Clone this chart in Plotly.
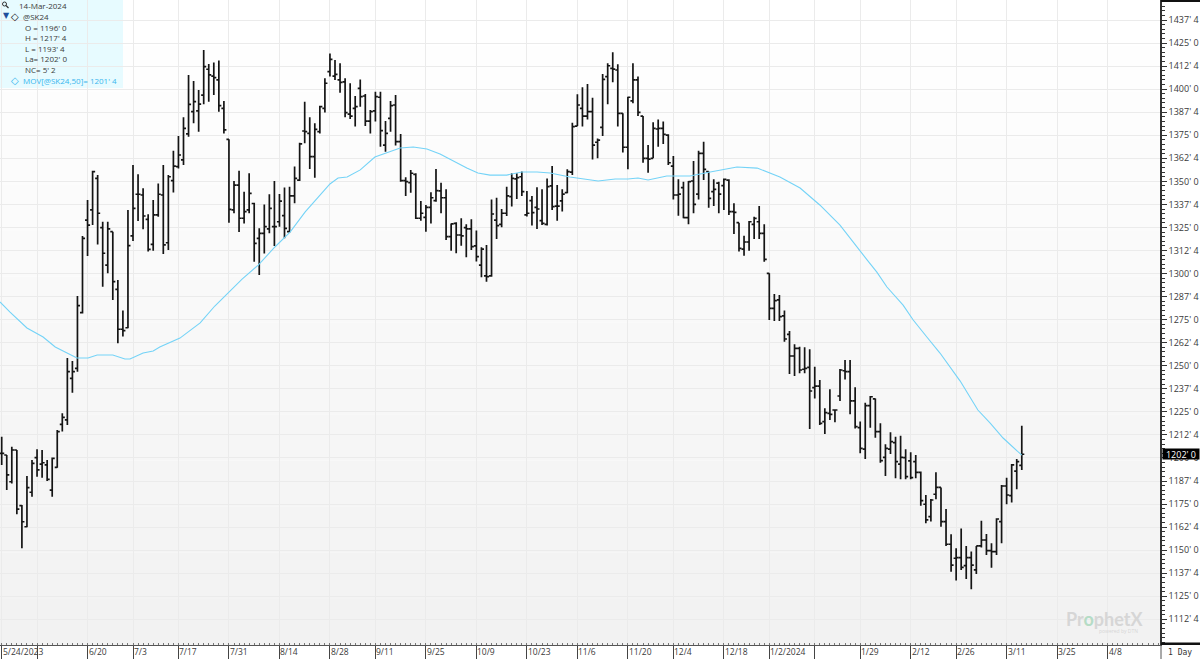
import plotly.graph_objects as go

# Daily prices for the May 2024 wheat contract, in cents per bushel
opens = [
    1202.5, 1201.6, 1187.1, 1204.3, 1174.1, 1162.7, 1181.4, 1200.2, 1196.7, 1196.2,
    1182.6, 1194.9, 1218.2, 1220.6, 1243.2, 1248.6, 1278.8, 1329.0, 1334.5, 1351.6,
    1324.9, 1304.6, 1322.7, 1291.4, 1269.8, 1270.6, 1320.4, 1343.0, 1342.6, 1329.4,
    1315.8, 1331.8, 1342.6, 1316.7, 1350.4, 1358.0, 1361.6, 1375.7, 1387.8, 1388.2,
    1396.8, 1410.8, 1407.1, 1405.0, 1389.6, 1372.8, 1334.5, 1348.0, 1330.0, 1334.5,
    1338.0, 1319.1, 1321.8, 1324.2, 1325.4, 1328.1, 1331.4, 1322.7, 1342.1, 1350.7,
    1377.3, 1376.0, 1363.4, 1377.0, 1389.6, 1409.5, 1407.1, 1405.0, 1404.0, 1386.5,
    1389.6, 1400.4, 1396.3, 1382.7, 1388.2, 1395.6, 1369.7, 1384.2, 1391.4, 1371.5,
    1350.4, 1349.3, 1353.8, 1330.0, 1330.5, 1335.9, 1339.5, 1344.8, 1341.1, 1320.0,
    1327.2, 1320.9, 1324.9, 1324.2, 1315.0, 1304.6, 1298.7, 1298.7, 1329.0, 1326.7,
    1332.7, 1341.7, 1351.3, 1352.5, 1331.8, 1339.5, 1335.9, 1328.7, 1326.7, 1347.5,
    1336.6, 1339.4, 1343.9, 1355.0, 1380.0, 1389.6, 1385.4, 1387.8, 1371.2, 1379.3,
    1406.8, 1411.3, 1410.4, 1386.9, 1368.5, 1393.6, 1405.0, 1385.4, 1362.5, 1362.5,
    1378.4, 1378.7, 1375.1, 1358.3, 1342.6, 1346.6, 1330.3, 1350.2, 1343.1, 1365.2,
    1355.3, 1344.4, 1349.0, 1347.7, 1350.7, 1333.6, 1327.6, 1313.3, 1317.1, 1326.7,
    1328.1, 1321.8, 1300.1, 1281.1, 1285.7, 1277.0, 1267.0, 1255.3, 1259.4, 1248.1,
    1249.1, 1238.1, 1239.0, 1219.7, 1224.2, 1226.0, 1233.6, 1247.3, 1246.8, 1230.9,
    1216.4, 1204.8, 1228.4, 1232.0, 1214.3, 1200.3, 1204.8, 1208.3, 1196.7, 1200.2,
    1198.4, 1198.0, 1192.2, 1174.9, 1168.2, 1180.3, 1184.0, 1165.5, 1153.2, 1145.6,
    1145.9, 1141.6, 1145.9, 1139.3, 1152.3, 1155.5, 1149.7, 1149.2, 1165.5, 1184.8,
    1179.6, 1192.9, 1196.0,
]
highs = [
    1211.5, 1201.6, 1206.1, 1204.3, 1174.5, 1190.2, 1198.9, 1204.7, 1204.3, 1198.9,
    1200.2, 1215.2, 1224.2, 1254.2, 1252.6, 1287.8, 1320.4, 1339.9, 1355.8, 1353.4,
    1328.1, 1328.1, 1322.7, 1296.5, 1279.9, 1334.5, 1358.9, 1353.8, 1346.2, 1332.1,
    1339.9, 1348.9, 1358.9, 1353.4, 1366.6, 1374.6, 1384.7, 1407.7, 1404.4, 1399.5,
    1421.2, 1413.6, 1414.4, 1415.5, 1393.6, 1372.8, 1350.2, 1355.8, 1344.4, 1354.4,
    1338.4, 1324.5, 1337.5, 1343.0, 1350.2, 1343.1, 1346.6, 1347.1, 1358.0, 1371.0,
    1393.2, 1384.7, 1381.5, 1391.0, 1405.9, 1419.4, 1415.8, 1414.0, 1405.9, 1403.2,
    1396.3, 1405.3, 1397.4, 1388.7, 1398.6, 1398.6, 1382.7, 1393.6, 1396.8, 1375.7,
    1352.2, 1356.2, 1354.4, 1339.4, 1337.2, 1344.1, 1356.7, 1349.3, 1345.7, 1327.2,
    1327.8, 1330.0, 1326.7, 1329.4, 1323.3, 1314.2, 1315.5, 1340.2, 1341.1, 1335.0,
    1347.1, 1354.4, 1354.4, 1355.3, 1344.8, 1342.1, 1346.8, 1345.7, 1351.6, 1358.3,
    1348.0, 1345.7, 1356.5, 1381.8, 1397.2, 1401.0, 1402.8, 1395.4, 1373.3, 1408.2,
    1414.0, 1420.0, 1413.5, 1386.9, 1395.9, 1414.0, 1406.8, 1385.4, 1369.7, 1382.0,
    1383.6, 1382.4, 1375.5, 1363.8, 1351.1, 1349.8, 1350.2, 1361.0, 1366.6, 1371.5,
    1355.3, 1351.1, 1349.8, 1351.6, 1351.1, 1338.1, 1327.6, 1320.5, 1328.5, 1330.8,
    1336.6, 1326.7, 1300.1, 1288.9, 1288.4, 1279.9, 1268.8, 1261.6, 1260.3, 1260.0,
    1258.9, 1249.5, 1242.3, 1226.9, 1237.2, 1226.4, 1248.2, 1253.1, 1253.1, 1238.3,
    1219.7, 1230.0, 1233.6, 1232.3, 1218.8, 1207.4, 1213.9, 1211.5, 1212.1, 1204.7,
    1203.1, 1201.6, 1192.6, 1179.9, 1177.8, 1192.2, 1184.0, 1172.3, 1158.6, 1151.0,
    1161.8, 1152.3, 1149.2, 1152.3, 1166.0, 1158.8, 1153.7, 1167.3, 1185.3, 1189.3,
    1196.7, 1199.4, 1217.5,
]
lows = [
    1196.2, 1182.6, 1186.2, 1169.4, 1151.0, 1162.4, 1179.0, 1189.8, 1189.3, 1187.5,
    1179.0, 1194.7, 1214.3, 1217.9, 1235.4, 1246.8, 1278.4, 1309.5, 1326.3, 1315.8,
    1292.9, 1300.1, 1285.7, 1262.2, 1265.8, 1270.3, 1317.7, 1328.5, 1324.0, 1311.9,
    1312.4, 1330.8, 1310.6, 1312.8, 1343.9, 1357.0, 1358.9, 1374.2, 1381.5, 1376.9,
    1391.8, 1393.2, 1396.8, 1387.8, 1376.0, 1327.6, 1332.7, 1322.5, 1327.2, 1332.7,
    1306.4, 1299.2, 1310.9, 1321.8, 1314.9, 1325.4, 1319.1, 1322.2, 1338.1, 1350.2,
    1370.6, 1356.7, 1352.0, 1376.0, 1387.4, 1406.8, 1405.0, 1398.1, 1384.7, 1383.8,
    1379.7, 1390.5, 1380.0, 1376.0, 1382.4, 1368.8, 1366.1, 1376.9, 1369.4, 1349.8,
    1342.0, 1343.8, 1329.6, 1328.7, 1322.7, 1327.2, 1339.0, 1332.7, 1318.2, 1312.4,
    1311.0, 1315.1, 1308.8, 1312.8, 1306.5, 1298.0, 1295.6, 1298.3, 1318.7, 1325.1,
    1331.2, 1336.3, 1340.4, 1342.1, 1330.9, 1326.0, 1324.2, 1326.3, 1326.0, 1334.5,
    1328.7, 1333.6, 1343.5, 1353.4, 1380.0, 1379.7, 1383.6, 1361.9, 1362.5, 1374.6,
    1391.8, 1403.7, 1379.7, 1365.7, 1356.5, 1392.3, 1385.4, 1360.1, 1354.7, 1362.5,
    1368.8, 1370.3, 1358.9, 1340.2, 1331.4, 1330.0, 1326.7, 1332.7, 1340.2, 1350.7,
    1335.7, 1336.6, 1332.7, 1334.5, 1331.8, 1321.5, 1311.9, 1309.7, 1312.4, 1318.7,
    1318.7, 1306.4, 1274.8, 1274.3, 1274.3, 1263.0, 1245.5, 1244.4, 1245.9, 1245.9,
    1215.7, 1232.3, 1217.9, 1213.0, 1220.6, 1219.3, 1230.9, 1242.6, 1223.7, 1216.0,
    1202.5, 1199.4, 1216.4, 1211.0, 1197.4, 1190.2, 1202.1, 1189.0, 1188.4, 1188.4,
    1188.4, 1189.0, 1174.1, 1164.6, 1165.5, 1177.6, 1162.7, 1152.3, 1138.3, 1133.5,
    1139.3, 1134.4, 1128.8, 1137.1, 1151.4, 1147.4, 1140.5, 1147.4, 1153.7, 1174.9,
    1175.9, 1183.0, 1193.5,
]
closes = [
    1202.5, 1190.8, 1204.3, 1172.3, 1165.4, 1183.9, 1197.1, 1193.5, 1197.4, 1188.4,
    1199.8, 1214.3, 1222.0, 1246.8, 1246.8, 1282.6, 1319.1, 1326.3, 1355.3, 1332.7,
    1311.0, 1324.2, 1295.6, 1269.8, 1269.0, 1315.1, 1335.4, 1343.0, 1331.2, 1313.1,
    1331.8, 1343.0, 1315.5, 1352.5, 1358.3, 1364.3, 1378.7, 1391.8, 1393.2, 1391.9,
    1412.2, 1407.7, 1406.2, 1391.1, 1377.9, 1334.8, 1348.0, 1330.0, 1333.6, 1343.5,
    1316.4, 1321.8, 1325.4, 1335.4, 1325.4, 1339.3, 1324.5, 1342.1, 1351.6, 1370.3,
    1377.0, 1363.4, 1378.2, 1390.5, 1403.2, 1416.2, 1408.0, 1403.7, 1387.3, 1385.4,
    1390.5, 1395.9, 1382.7, 1387.8, 1395.9, 1377.5, 1376.0, 1391.1, 1371.5, 1350.4,
    1349.8, 1354.4, 1330.0, 1332.7, 1335.9, 1341.1, 1345.0, 1341.1, 1320.0, 1326.9,
    1320.9, 1320.4, 1324.2, 1314.6, 1309.2, 1313.3, 1298.3, 1332.3, 1326.0, 1332.7,
    1342.1, 1351.6, 1352.0, 1344.4, 1332.7, 1333.0, 1335.0, 1327.2, 1347.1, 1336.3,
    1336.6, 1343.1, 1355.3, 1379.7, 1391.4, 1385.4, 1387.8, 1369.7, 1372.4, 1405.3,
    1412.7, 1410.9, 1386.9, 1368.5, 1395.6, 1405.0, 1387.4, 1362.5, 1362.1, 1378.7,
    1378.7, 1375.5, 1360.1, 1342.6, 1343.1, 1330.3, 1349.8, 1337.5, 1365.2, 1356.5,
    1340.8, 1345.7, 1343.1, 1351.1, 1333.6, 1333.2, 1313.7, 1317.1, 1328.1, 1329.9,
    1321.8, 1307.7, 1281.1, 1285.3, 1276.6, 1264.5, 1255.3, 1259.4, 1247.7, 1248.6,
    1236.3, 1239.0, 1218.8, 1224.6, 1223.6, 1226.0, 1247.7, 1246.8, 1230.9, 1217.0,
    1205.2, 1228.4, 1233.2, 1214.3, 1198.5, 1205.2, 1208.8, 1198.0, 1200.3, 1189.9,
    1189.3, 1192.2, 1176.9, 1166.4, 1177.2, 1184.0, 1165.5, 1153.2, 1141.9, 1145.9,
    1140.7, 1145.9, 1141.9, 1152.3, 1155.5, 1149.7, 1149.2, 1166.9, 1184.8, 1179.9,
    1196.2, 1198.0, 1202.0,
]

# 50-day moving average, sampled along the session count
ma_bars = [
    -0.34, 1.6, 5, 8.2, 10.6, 14.9, 17.1, 18.9, 22, 24.4, 25.4, 28, 30, 31.3, 35.3, 39.3,
    42.2, 47.6, 50.8, 54.1, 57.1, 60.1, 65, 66.6, 68.4, 71, 73.9, 76.9, 78.9, 81.5, 84.2,
    86.8, 89.4, 92.1, 94.3, 96.7, 100, 103, 106, 108.6, 112.5, 118.1, 121.5, 124, 126,
    128, 131.7, 136.3, 140.3, 145.6, 149.6, 152.1, 154.1, 158.1, 162, 166, 169, 171.4,
    173.3, 175.3, 178.5, 180.5, 183.2, 185.8, 189.8, 193.3, 195.7, 198.3, 202,
]
ma_values = [
    1284.6, 1279.2, 1270.5, 1265.6, 1260.2, 1254.2, 1254.2, 1255.8, 1255.8, 1253.7, 1253.7,
    1256.9, 1258.0, 1260.2, 1265.0, 1273.2, 1282.4, 1297.0, 1304.6, 1314.4, 1322.5, 1333.4,
    1348.6, 1351.8, 1352.4, 1356.2, 1363.2, 1365.9, 1368.1, 1368.6, 1367.5, 1364.8, 1361.0,
    1357.2, 1354.5, 1353.4, 1353.4, 1355.1, 1355.1, 1354.5, 1352.4, 1350.2, 1351.3, 1351.3,
    1351.8, 1350.7, 1352.9, 1352.9, 1355.1, 1357.8, 1357.2, 1354.5, 1352.4, 1346.4, 1337.2,
    1326.3, 1315.5, 1307.3, 1300.8, 1292.7, 1282.9, 1274.8, 1265.6, 1256.9, 1241.7, 1226.0,
    1219.0, 1210.8, 1201.5,
]
net_change = 5.25

# Session numbers of the time-axis divisions and their labels
tick_bars = [0, 7, 17, 26, 35, 45, 55, 65, 74, 84, 94, 104, 114, 124, 133, 143, 152, 161,
             170, 180, 189, 199, 209, 219]
tick_labels = ["5/24/2023", "", "6/20", "7/3", "7/17", "7/31", "8/14", "8/28", "9/11", "9/25",
               "10/9", "10/23", "11/6", "11/20", "12/4", "12/18", "1/2/2024", "", "1/29",
               "2/12", "2/26", "3/11", "3/25", "4/8"]

# Price-axis divisions every 12.5 cents
price_ticks = [1100 + 12.5 * k for k in range(1, 28)]

W, H = 1200, 659
PLOT_W, PLOT_H = 1160, 645
FONT = "Open Sans"
INK = "#3a3a3a"
MA_BLUE = "#74d3f7"


def quote(value):
    """Grain-style price: whole cents, then eighths after the apostrophe."""
    whole = int(value)
    return f"{whole}' {int(round((value - whole) * 8))}"


def px(x):
    return x / PLOT_W


def py(y):
    return 1 - y / PLOT_H


bars = list(range(len(opens)))

fig = go.Figure()
fig.add_trace(go.Ohlc(
    x=bars, open=opens, high=highs, low=lows, close=closes,
    increasing=dict(line=dict(color="#141414", width=1.7)),
    decreasing=dict(line=dict(color="#141414", width=1.7)),
    tickwidth=0.5, hoverinfo="skip", showlegend=False,
))
fig.add_trace(go.Scatter(
    x=ma_bars, y=ma_values, mode="lines",
    line=dict(color=MA_BLUE, width=1.1),
    hoverinfo="skip", showlegend=False,
))

shapes = []
# Pale vertical wash behind the plot area
BANDS = 14
for k in range(BANDS):
    shade = 255 - k
    shapes.append(dict(
        type="rect", xref="paper", yref="paper", layer="below", line_width=0,
        x0=0, x1=1, y0=py(PLOT_H * (k + 1) / BANDS), y1=py(PLOT_H * k / BANDS),
        fillcolor=f"rgb({shade},{shade},{shade})",
    ))
# Readout panel
shapes.append(dict(type="rect", xref="paper", yref="paper", layer="below", line_width=0,
                   x0=0, x1=px(123), y0=py(88), y1=1, fillcolor="#e7fbff"))
# Heavy rules closing the price scale
for y0, y1 in ((0, 2), (642.5, 645)):
    shapes.append(dict(type="rect", xref="paper", yref="paper", line_width=0,
                       x0=px(1161), x1=px(1200), y0=py(y1), y1=py(y0), fillcolor="#111111"))
# Interval cell divider
shapes.append(dict(type="line", xref="paper", yref="paper", x0=px(1161), x1=px(1161),
                   y0=py(659), y1=py(645), line=dict(color="#555555", width=1)))
# Magnifier icon
shapes.append(dict(type="circle", xref="paper", yref="paper", x0=px(2.5), x1=px(6.5),
                   y0=py(6), y1=py(2), line=dict(color="#333333", width=1)))
shapes.append(dict(type="line", xref="paper", yref="paper", x0=px(6), x1=px(8.5),
                   y0=py(5.5), y1=py(8), line=dict(color="#333333", width=1.2)))


def note(text, x, y, color=INK, size=8, family=FONT, anchor="left", **extra):
    return dict(text=text, xref="paper", yref="paper", x=px(x), y=py(y), xanchor=anchor,
                yanchor="middle", showarrow=False, font=dict(family=family, size=size, color=color),
                **extra)


annotations = [
    note("14-Mar-2024", 17, 6),
    note("@SK24", 21, 17),
    note(f"O = {quote(opens[-1])}", 23, 27.5),
    note(f"H = {quote(highs[-1])}", 23, 37.5),
    note(f"L = {quote(lows[-1])}", 23, 48),
    note(f"La= {quote(closes[-1])}", 23, 59),
    note(f"NC= {quote(net_change)}", 23, 70),
    note(f"MOV[@SK24,50]= {quote(ma_values[-1])}", 21, 80.5, color="#38b6ee"),
    note("▼", 0.5, 15, color="#1f4f9c", size=8, family="DejaVu Sans"),
    note("<b>◇</b>", 9, 16, color="#111111", size=10, family="DejaVu Sans"),
    note("<b>◇</b>", 9, 80.5, color="#38b6ee", size=10, family="DejaVu Sans"),
    note("1 Day", 1166, 652, color="#333333", size=8, family="DejaVu Sans Mono"),
    note('<b>Pr<span style="color:#b5dcc6">o</span>phetX</b>', 1064, 619, color="#d6d6d6",
         size=18, family="Lato"),
    note("powered by DTN", 1140, 630.5, color="#d6d6d6", size=5, anchor="right"),
    # Last-price flag on the scale
    dict(text=quote(closes[-1]), xref="paper", yref="y", x=px(1162), y=closes[-1], xanchor="left",
         yanchor="middle", showarrow=False, bgcolor="#000000", width=36, height=10, borderpad=0,
         font=dict(family=FONT, size=9, color="#ffffff")),
]
# Date labels sit to the right of their divisions
for bar, label in zip(tick_bars, tick_labels):
    if label:
        annotations.append(dict(
            text=label, xref="x", yref="paper", x=bar, y=0, xanchor="left", yanchor="top",
            showarrow=False, borderpad=0,
            font=dict(family=FONT, size=8.5, color=INK),
        ))

fig.update_layout(
    width=W, height=H, autosize=False,
    margin=dict(l=0, r=W - PLOT_W, t=0, b=H - PLOT_H, pad=0),
    paper_bgcolor="#ffffff", plot_bgcolor="#ffffff",
    showlegend=False, shapes=shapes, annotations=annotations,
    xaxis=dict(
        range=[-0.337, 229.37], rangeslider=dict(visible=False),
        tickmode="array", tickvals=tick_bars, showticklabels=False,
        ticks="outside", ticklen=14, tickcolor="#444444", tickwidth=1,
        showgrid=True, gridcolor="#ebebeb", gridwidth=1, zeroline=False,
        showline=True, linecolor="#555555", linewidth=1,
        minor=dict(ticks="inside", ticklen=2, tickcolor="#777777", tickwidth=1,
                   tick0=0, dtick=1, showgrid=False),
    ),
    yaxis=dict(
        range=[1098.56, 1448.35], side="right",
        tickmode="array", tickvals=price_ticks, ticktext=[quote(v) for v in price_ticks],
        ticks="outside", ticklen=5, tickcolor="#333333", tickwidth=1,
        tickfont=dict(family=FONT, size=9, color=INK),
        showgrid=True, gridcolor="#ebebeb", gridwidth=1, zeroline=False,
        showline=True, linecolor="#333333", linewidth=1.5,
        minor=dict(ticks="outside", ticklen=3, tickcolor="#333333", tickwidth=1,
                   tick0=1100, dtick=2.5, showgrid=False),
    ),
)

fig.write_html("out.html", config=dict(displayModeBar=False))
